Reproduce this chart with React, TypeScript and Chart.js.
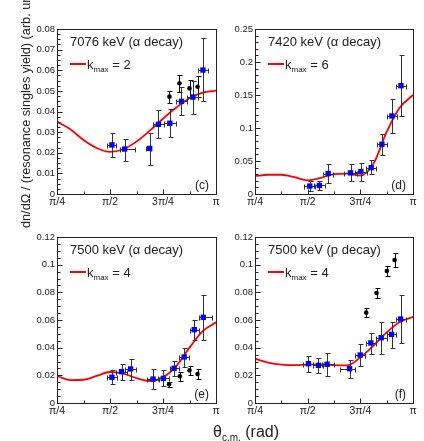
import React, { useEffect, useRef } from "react";
import { Chart, registerables } from "chart.js";

Chart.register(...registerables);

const FONT = '"Liberation Sans", Arial, Helvetica, sans-serif';
const PI = Math.PI;
const TEXT_COLOR = "#222";
const AXIS_COLOR = "#222";

// x axis (radians)
const X_TICKS = [PI / 4, PI / 2, (3 * PI) / 4, PI];
const X_TICK_LABELS = ["π/4", "π/2", "3π/4", "π"];
const X_MINOR_TICKS = [(3 * PI) / 8, (5 * PI) / 8, (7 * PI) / 8];

const CURVE_THETA = [0.785, 0.982, 1.178, 1.374, 1.571, 1.767, 1.963, 2.16, 2.356, 2.553, 2.749, 2.945, 3.142];

// ---------- panel (c): 7076 keV (alpha decay) ----------
const C_BLUE_THETA = [1.599, 1.787, 2.159, 2.288, 2.457, 2.63, 2.799, 2.948];
const C_BLUE_VAL = [0.0238, 0.0218, 0.0221, 0.0338, 0.0343, 0.0449, 0.047, 0.0601];
const C_BLUE_ERR_UP = [0.0056, 0.0049, 0.0076, 0.0069, 0.0067, 0.0068, 0.0078, 0.0157];
const C_BLUE_ERR_DN = [0.0057, 0.0056, 0.008, 0.0068, 0.0065, 0.0066, 0.0082, 0.0148];
const C_BLUE_XERR_L = [0.066, 0.074, 0.06, 0.085, 0.085, 0.075, 0.08, 0.07];
const C_BLUE_XERR_R = [0.066, 0.149, 0.02, 0.085, 0.085, 0.075, 0.08, 0.07];
const C_BLACK_THETA = [2.452, 2.6, 2.749, 2.868];
const C_BLACK_VAL = [0.0472, 0.0537, 0.0512, 0.052];
const C_BLACK_ERR = [0.0029, 0.0041, 0.0042, 0.005];
const C_CURVE = [0.0351, 0.0314, 0.0262, 0.0223, 0.0204, 0.0217, 0.0254, 0.0307, 0.0365, 0.0419, 0.0464, 0.0491, 0.0501];

// ---------- panel (d): 7420 keV (alpha decay) ----------
const D_BLUE_THETA = [1.602, 1.746, 1.876, 2.21, 2.364, 2.518, 2.678, 2.827, 2.962];
const D_BLUE_VAL = [0.012, 0.013, 0.031, 0.032, 0.034, 0.04, 0.0753, 0.1182, 0.1641];
const D_BLUE_ERR_UP = [0.007, 0.0068, 0.0142, 0.013, 0.0137, 0.012, 0.0151, 0.0252, 0.0465];
const D_BLUE_ERR_DN = [0.007, 0.0072, 0.0146, 0.013, 0.0136, 0.01, 0.0162, 0.0253, 0.0459];
const D_BLUE_XERR_L = [0.08, 0.085, 0.075, 0.09, 0.085, 0.07, 0.08, 0.07, 0.075];
const D_BLUE_XERR_R = [0.08, 0.085, 0.075, 0.09, 0.085, 0.07, 0.08, 0.07, 0.075];
const D_CURVE = [0.027, 0.0292, 0.0292, 0.0255, 0.0207, 0.0245, 0.03, 0.0308, 0.0278, 0.046, 0.094, 0.131, 0.15];

// ---------- panel (e): 7500 keV (alpha decay) ----------
const E_BLUE_THETA = [1.599, 1.742, 1.876, 2.209, 2.362, 2.521, 2.67, 2.819, 2.953];
const E_BLUE_VAL = [0.0186, 0.0227, 0.0246, 0.0173, 0.0178, 0.0251, 0.0333, 0.053, 0.0619];
const E_BLUE_ERR_UP = [0.005, 0.0053, 0.007, 0.007, 0.0058, 0.0053, 0.0067, 0.0068, 0.0159];
const E_BLUE_ERR_DN = [0.0046, 0.0058, 0.008, 0.0074, 0.0055, 0.0056, 0.0073, 0.0077, 0.0161];
const E_BLUE_XERR_L = [0.07, 0.075, 0.08, 0.087, 0.087, 0.068, 0.075, 0.068, 0.065];
const E_BLUE_XERR_R = [0.07, 0.075, 0.08, 0.087, 0.087, 0.068, 0.075, 0.068, 0.125];
const E_BLACK_THETA = [2.447, 2.605, 2.749, 2.868];
const E_BLACK_VAL = [0.0135, 0.0193, 0.0236, 0.021];
const E_BLACK_ERR = [0.0017, 0.0034, 0.0033, 0.0038];
const E_CURVE = [0.0195, 0.0166, 0.0168, 0.0196, 0.0224, 0.0213, 0.018, 0.0159, 0.0186, 0.0267, 0.04, 0.052, 0.0583];

// ---------- panel (f): 7500 keV (p decay) ----------
const F_BLUE_THETA = [1.582, 1.731, 1.861, 2.195, 2.354, 2.513, 2.668, 2.822, 2.957];
const F_BLUE_VAL = [0.0284, 0.0272, 0.028, 0.0248, 0.0347, 0.0434, 0.0472, 0.0496, 0.0607];
const F_BLUE_ERR_UP = [0.0056, 0.0051, 0.0084, 0.006, 0.0082, 0.0074, 0.0116, 0.0092, 0.0171];
const F_BLUE_ERR_DN = [0.0057, 0.0053, 0.0085, 0.0065, 0.008, 0.0077, 0.0115, 0.0096, 0.0173];
const F_BLUE_XERR_L = [0.075, 0.075, 0.08, 0.14, 0.075, 0.072, 0.08, 0.068, 0.075];
const F_BLUE_XERR_R = [0.075, 0.075, 0.1, 0.085, 0.075, 0.072, 0.08, 0.068, 0.075];
const F_BLACK_THETA = [2.444, 2.598, 2.752, 2.867];
const F_BLACK_VAL = [0.0653, 0.0795, 0.0954, 0.1034];
const F_BLACK_ERR = [0.0031, 0.0033, 0.0033, 0.0052];
const F_CURVE = [0.032, 0.0292, 0.0277, 0.0274, 0.0278, 0.0279, 0.0274, 0.0272, 0.033, 0.0415, 0.051, 0.0585, 0.0622];

type PanelCfg = {
  left: number;
  top: number;
  right: number;
  bottom: number;
  yMax: number;
  yStep: number;
  yMinorDiv: number;
  title: string;
  kmax: string;
  tag: string;
  blue: any[];
  black: any[];
  curve: number[];
};

function pts(xs: number[], ys: number[], up: number[], dn: number[], xl?: number[], xr?: number[]) {
  return xs.map((x, i) => ({
    x,
    y: ys[i],
    eu: up[i],
    ed: dn[i],
    xl: xl ? xl[i] : 0,
    xr: xr ? xr[i] : 0,
  }));
}

const PANELS: PanelCfg[] = [
  {
    left: 57, top: 29, right: 216, bottom: 194, yMax: 0.08, yStep: 0.01, yMinorDiv: 4,
    title: "7076 keV (α decay)", kmax: "2", tag: "(c)",
    blue: pts(C_BLUE_THETA, C_BLUE_VAL, C_BLUE_ERR_UP, C_BLUE_ERR_DN, C_BLUE_XERR_L, C_BLUE_XERR_R),
    black: pts(C_BLACK_THETA, C_BLACK_VAL, C_BLACK_ERR, C_BLACK_ERR),
    curve: C_CURVE,
  },
  {
    left: 255, top: 29, right: 413, bottom: 194, yMax: 0.25, yStep: 0.05, yMinorDiv: 5,
    title: "7420 keV (α decay)", kmax: "6", tag: "(d)",
    blue: pts(D_BLUE_THETA, D_BLUE_VAL, D_BLUE_ERR_UP, D_BLUE_ERR_DN, D_BLUE_XERR_L, D_BLUE_XERR_R),
    black: [],
    curve: D_CURVE,
  },
  {
    left: 57, top: 237, right: 216, bottom: 403, yMax: 0.12, yStep: 0.02, yMinorDiv: 4,
    title: "7500 keV (α decay)", kmax: "4", tag: "(e)",
    blue: pts(E_BLUE_THETA, E_BLUE_VAL, E_BLUE_ERR_UP, E_BLUE_ERR_DN, E_BLUE_XERR_L, E_BLUE_XERR_R),
    black: pts(E_BLACK_THETA, E_BLACK_VAL, E_BLACK_ERR, E_BLACK_ERR),
    curve: E_CURVE,
  },
  {
    left: 255, top: 237, right: 413, bottom: 403, yMax: 0.12, yStep: 0.02, yMinorDiv: 4,
    title: "7500 keV (p decay)", kmax: "4", tag: "(f)",
    blue: pts(F_BLUE_THETA, F_BLUE_VAL, F_BLUE_ERR_UP, F_BLUE_ERR_DN, F_BLUE_XERR_L, F_BLUE_XERR_R),
    black: pts(F_BLACK_THETA, F_BLACK_VAL, F_BLACK_ERR, F_BLACK_ERR),
    curve: F_CURVE,
  },
];

const PAD_L = 45;
const PAD_T = 12;
const PAD_R = 8;
const PAD_B = 22;

function makeDecor(cfg: PanelCfg) {
  return {
    id: "decor",
    beforeDatasetDraw(chart: any, args: any) {
      const ds: any = chart.data.datasets[args.index];
      if (!ds.errBars) return;
      const xs = chart.scales.x;
      const ys = chart.scales.y;
      const ctx = chart.ctx;
      ctx.save();
      ctx.strokeStyle = ds.errColor;
      ctx.lineWidth = 1;
      ctx.beginPath();
      ds.data.forEach((p: any) => {
        const px = Math.round(xs.getPixelForValue(p.x)) + 0.5;
        const py = Math.round(ys.getPixelForValue(p.y)) + 0.5;
        const yt = Math.round(ys.getPixelForValue(p.y + p.eu)) + 0.5;
        const yb = Math.round(ys.getPixelForValue(p.y - p.ed)) + 0.5;
        ctx.moveTo(px, yt);
        ctx.lineTo(px, yb);
        ctx.moveTo(px - 2, yt);
        ctx.lineTo(px + 3, yt);
        ctx.moveTo(px - 2, yb);
        ctx.lineTo(px + 3, yb);
        if (p.xl || p.xr) {
          const xl = Math.round(xs.getPixelForValue(p.x - p.xl)) + 0.5;
          const xr = Math.round(xs.getPixelForValue(p.x + p.xr)) + 0.5;
          ctx.moveTo(xl, py);
          ctx.lineTo(xr, py);
          ctx.moveTo(xl, py - 2);
          ctx.lineTo(xl, py + 3);
          ctx.moveTo(xr, py - 2);
          ctx.lineTo(xr, py + 3);
        }
      });
      ctx.stroke();
      ctx.restore();
    },
    afterDraw(chart: any) {
      const ctx = chart.ctx;
      const a = chart.chartArea;
      const xs = chart.scales.x;
      const ys = chart.scales.y;
      ctx.save();
      // frame
      ctx.strokeStyle = AXIS_COLOR;
      ctx.lineWidth = 1;
      ctx.strokeRect(Math.round(a.left) + 0.5, Math.round(a.top) + 0.5, Math.round(a.right - a.left), Math.round(a.bottom - a.top));
      // inward ticks
      ctx.beginPath();
      const L = Math.round(a.left) + 0.5;
      const B = Math.round(a.bottom) + 0.5;
      X_TICKS.forEach((v) => {
        const x = Math.round(xs.getPixelForValue(v)) + 0.5;
        ctx.moveTo(x, B);
        ctx.lineTo(x, B - 5);
      });
      X_MINOR_TICKS.forEach((v) => {
        const x = Math.round(xs.getPixelForValue(v)) + 0.5;
        ctx.moveTo(x, B);
        ctx.lineTo(x, B - 3);
      });
      const nMaj = Math.round(cfg.yMax / cfg.yStep);
      for (let i = 0; i <= nMaj; i++) {
        const y = Math.round(ys.getPixelForValue(i * cfg.yStep)) + 0.5;
        ctx.moveTo(L, y);
        ctx.lineTo(L + 5, y);
        if (i < nMaj) {
          for (let j = 1; j < cfg.yMinorDiv; j++) {
            const ym = Math.round(ys.getPixelForValue((i + j / cfg.yMinorDiv) * cfg.yStep)) + 0.5;
            ctx.moveTo(L, ym);
            ctx.lineTo(L + 3, ym);
          }
        }
      }
      ctx.stroke();

      // title
      ctx.fillStyle = TEXT_COLOR;
      ctx.textBaseline = "alphabetic";
      ctx.textAlign = "left";
      ctx.font = `13px ${FONT}`;
      const tx = a.left + 13;
      ctx.fillText(cfg.title, tx, a.top + 17);
      // legend
      const ly = a.top + 35;
      ctx.strokeStyle = "#ff0000";
      ctx.lineWidth = 2;
      ctx.beginPath();
      ctx.moveTo(tx, ly);
      ctx.lineTo(tx + 16, ly);
      ctx.stroke();
      let cx = tx + 17;
      ctx.font = `13px ${FONT}`;
      ctx.fillText("k", cx, ly + 5);
      cx += ctx.measureText("k").width;
      ctx.font = `8px ${FONT}`;
      ctx.fillText("max", cx, ly + 8);
      cx += ctx.measureText("max").width;
      ctx.font = `13px ${FONT}`;
      ctx.fillText(" = " + cfg.kmax, cx, ly + 5);
      // tag
      ctx.font = `12px ${FONT}`;
      ctx.textAlign = "right";
      ctx.fillText(cfg.tag, a.right - 7, a.bottom - 5);
      ctx.restore();
    },
  };
}

function Panel({ cfg }: { cfg: PanelCfg }) {
  const ref = useRef<HTMLCanvasElement | null>(null);
  const W = cfg.right - cfg.left + PAD_L + PAD_R;
  const H = cfg.bottom - cfg.top + PAD_T + PAD_B;

  useEffect(() => {
    if (!ref.current) return;
    const chart = new Chart(ref.current, {
      type: "scatter",
      data: {
        datasets: [
          {
            label: "blue",
            data: cfg.blue,
            pointStyle: "rect",
            pointRadius: 3.8,
            backgroundColor: "#0000ff",
            borderColor: "#0000ff",
            borderWidth: 0,
            showLine: false,
            errBars: true,
            errColor: "#333",
          } as any,
          {
            label: "black",
            data: cfg.black,
            pointStyle: "circle",
            pointRadius: 2.3,
            backgroundColor: "#000",
            borderColor: "#000",
            borderWidth: 0,
            showLine: false,
            errBars: true,
            errColor: "#000",
          } as any,
          {
            label: "fit",
            data: CURVE_THETA.map((t, i) => ({ x: t, y: cfg.curve[i] })),
            showLine: true,
            borderColor: "#ff0000",
            borderWidth: 1.8,
            pointRadius: 0,
            tension: 0.4,
            cubicInterpolationMode: "monotone",
            fill: false,
          } as any,
        ],
      },
      options: {
        responsive: false,
        animation: false,
        devicePixelRatio: 1,
        layout: { padding: { left: 0, top: PAD_T, right: PAD_R, bottom: 0 } },
        plugins: { legend: { display: false }, tooltip: { enabled: false }, title: { display: false } },
        scales: {
          x: {
            type: "linear",
            min: PI / 4,
            max: PI,
            grid: { display: false, drawTicks: false },
            border: { display: false },
            afterBuildTicks: (s: any) => {
              s.ticks = X_TICKS.map((v) => ({ value: v }));
            },
            afterFit: (s: any) => {
              s.height = PAD_B;
            },
            ticks: {
              autoSkip: false,
              maxRotation: 0,
              padding: 2,
              color: TEXT_COLOR,
              font: { family: FONT, size: 10.5 },
              callback: (_v: any, i: number) => X_TICK_LABELS[i],
            },
          },
          y: {
            type: "linear",
            min: 0,
            max: cfg.yMax,
            grid: { display: false, drawTicks: false },
            border: { display: false },
            afterBuildTicks: (s: any) => {
              const n = Math.round(cfg.yMax / cfg.yStep);
              const t: any[] = [];
              for (let i = 0; i <= n; i++) t.push({ value: i * cfg.yStep });
              s.ticks = t;
            },
            afterFit: (s: any) => {
              s.width = PAD_L;
            },
            ticks: {
              padding: 2,
              color: TEXT_COLOR,
              font: { family: FONT, size: 9.5 },
              callback: (v: any) => String(Number(Number(v).toFixed(3))),
            },
          },
        },
      } as any,
      plugins: [makeDecor(cfg) as any],
    });
    return () => chart.destroy();
  }, []);

  return (
    <canvas
      ref={ref}
      width={W}
      height={H}
      style={{ position: "absolute", left: cfg.left - PAD_L, top: cfg.top - PAD_T, width: W, height: H }}
    />
  );
}

export default function App() {
  return (
    <div style={{ position: "absolute", left: 0, top: 0, width: 424, height: 441, overflow: "hidden", background: "#fff" }}>
      {PANELS.map((p, i) => (
        <Panel key={i} cfg={p} />
      ))}
      <div
        style={{
          position: "absolute",
          left: 19,
          top: 228,
          transformOrigin: "0 0",
          transform: "rotate(-90deg)",
          whiteSpace: "nowrap",
          font: `12.7px ${FONT}`,
          lineHeight: "15px",
          color: TEXT_COLOR,
        }}
      >
        dn/dΩ / (resonance singles yield) (arb. units)
      </div>
      <div
        style={{
          position: "absolute",
          left: 213,
          top: 424,
          whiteSpace: "nowrap",
          font: `16px ${FONT}`,
          lineHeight: "16px",
          color: TEXT_COLOR,
        }}
      >
        θ<span style={{ fontSize: 10, position: "relative", top: 4 }}>c.m.</span> (rad)
      </div>
    </div>
  );
}
